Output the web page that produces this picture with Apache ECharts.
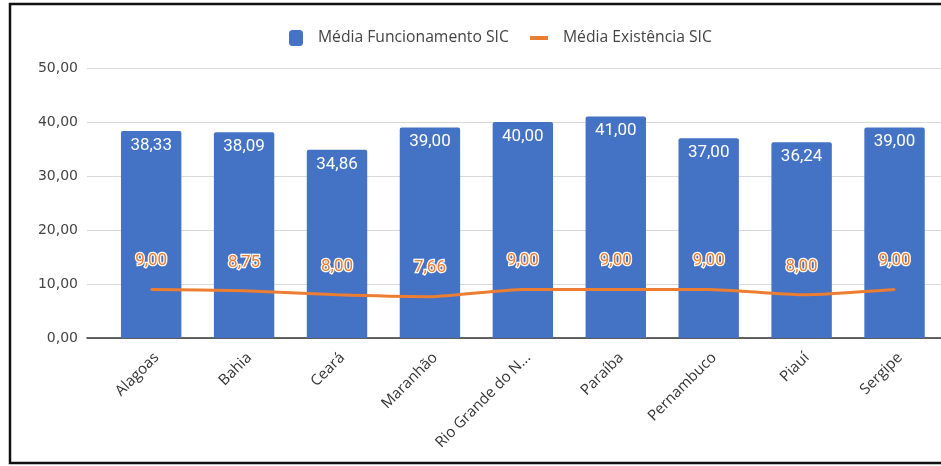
<!DOCTYPE html>
<html>
<head>
<meta charset="utf-8">
<script src="https://cdn.jsdelivr.net/npm/echarts@6/dist/echarts.min.js"></script>
<style>
  html, body { margin: 0; padding: 0; background: #fff; overflow: hidden; }
  #chart { width: 941px; height: 466px; }
</style>
</head>
<body>
<div id="chart"></div>
<script>
// Estados do Nordeste e médias de funcionamento / existência do SIC
const estados = ['Alagoas', 'Bahia', 'Ceará', 'Maranhão', 'Rio Grande do Norte', 'Paraíba', 'Pernambuco', 'Piauí', 'Sergipe'];
const mediaFuncionamento = [38.33, 38.09, 34.86, 39.00, 40.00, 41.00, 37.00, 36.24, 39.00];
const mediaExistencia = [9.00, 8.75, 8.00, 7.66, 9.00, 9.00, 9.00, 8.00, 9.00];
const yTicks = { min: 0, max: 50, interval: 10 };

const AZUL = '#4472c4';
const LARANJA = '#ed7d31';
const fmt = v => Number(v).toFixed(2).replace('.', ',');

const chart = echarts.init(document.getElementById('chart'), null, { renderer: 'canvas' });

chart.setOption({
  animation: false,
  backgroundColor: '#fff',
  graphic: [{
    type: 'rect',
    shape: { x: 10, y: 4, width: 1000, height: 459 },
    style: { fill: 'none', stroke: '#111', lineWidth: 2.5 },
    z: 100
  }],
  legend: [{
    data: ['Média Funcionamento SIC'],
    left: 289, top: 30, padding: 0,
    icon: 'roundRect',
    itemWidth: 14, itemHeight: 16,
    textStyle: { fontFamily: 'Open Sans', fontSize: 15.7, color: '#444', padding: [0, 0, 0, 10] }
  }, {
    data: [{ name: 'Média Existência SIC', itemStyle: { color: LARANJA } }],
    left: 530, top: 30, padding: 0,
    icon: 'rect',
    itemWidth: 18, itemHeight: 4,
    textStyle: { fontFamily: 'Open Sans', fontSize: 15.7, color: '#444', padding: [0, 0, 0, 10] }
  }],
  grid: [
    { left: 87, right: -10, top: 68, bottom: 128 },
    { left: 104.7, right: -6.3, top: 68, bottom: 128 }
  ],
  xAxis: [{
    gridIndex: 0,
    type: 'category',
    data: estados,
    axisLine: { show: true, lineStyle: { color: '#333', width: 1.5 } },
    axisTick: { show: false },
    axisLabel: { show: false }
  }, {
    gridIndex: 1,
    type: 'category',
    data: estados,
    axisLine: { show: false },
    axisTick: { show: false },
    axisLabel: {
      rotate: 45,
      margin: 12,
      interval: 0,
      verticalAlign: 'top',
      fontFamily: 'Open Sans',
      fontSize: 15,
      color: '#333',
      formatter: s => (s.length > 16 ? s.slice(0, 15) + '...' : s)
    }
  }],
  yAxis: [{
    gridIndex: 0,
    type: 'value',
    min: yTicks.min, max: yTicks.max, interval: yTicks.interval,
    axisLine: { show: false },
    axisTick: { show: false },
    splitLine: { lineStyle: { color: '#d9d9d9', width: 1 } },
    axisLabel: { fontFamily: 'DejaVu Sans', fontSize: 14, color: '#444', margin: 9, formatter: fmt }
  }, {
    gridIndex: 1,
    type: 'value',
    min: yTicks.min, max: yTicks.max, interval: yTicks.interval,
    show: false
  }],
  series: [{
    name: 'Média Funcionamento SIC',
    type: 'bar',
    xAxisIndex: 1, yAxisIndex: 1,
    data: mediaFuncionamento,
    barWidth: '65%',
    itemStyle: { color: AZUL, borderRadius: [2, 2, 0, 0] },
    label: {
      show: true,
      position: 'insideTop',
      distance: 6,
      color: '#fff',
      fontFamily: 'Roboto',
      fontSize: 17,
      formatter: p => fmt(p.value)
    },
    z: 2
  }, {
    name: 'Média Existência SIC',
    type: 'line',
    xAxisIndex: 1, yAxisIndex: 1,
    data: mediaExistencia,
    smooth: 0.2,
    showSymbol: true,
    symbol: 'circle',
    symbolSize: 2,
    lineStyle: { color: LARANJA, width: 3 },
    itemStyle: { color: LARANJA },
    label: {
      show: true,
      position: 'top',
      distance: 19,
      color: LARANJA,
      fontFamily: 'Roboto',
      fontSize: 17,
      textBorderColor: '#fff',
      textBorderWidth: 2.5,
      formatter: p => fmt(p.value)
    },
    z: 3
  }]
});
</script>
</body>
</html>
